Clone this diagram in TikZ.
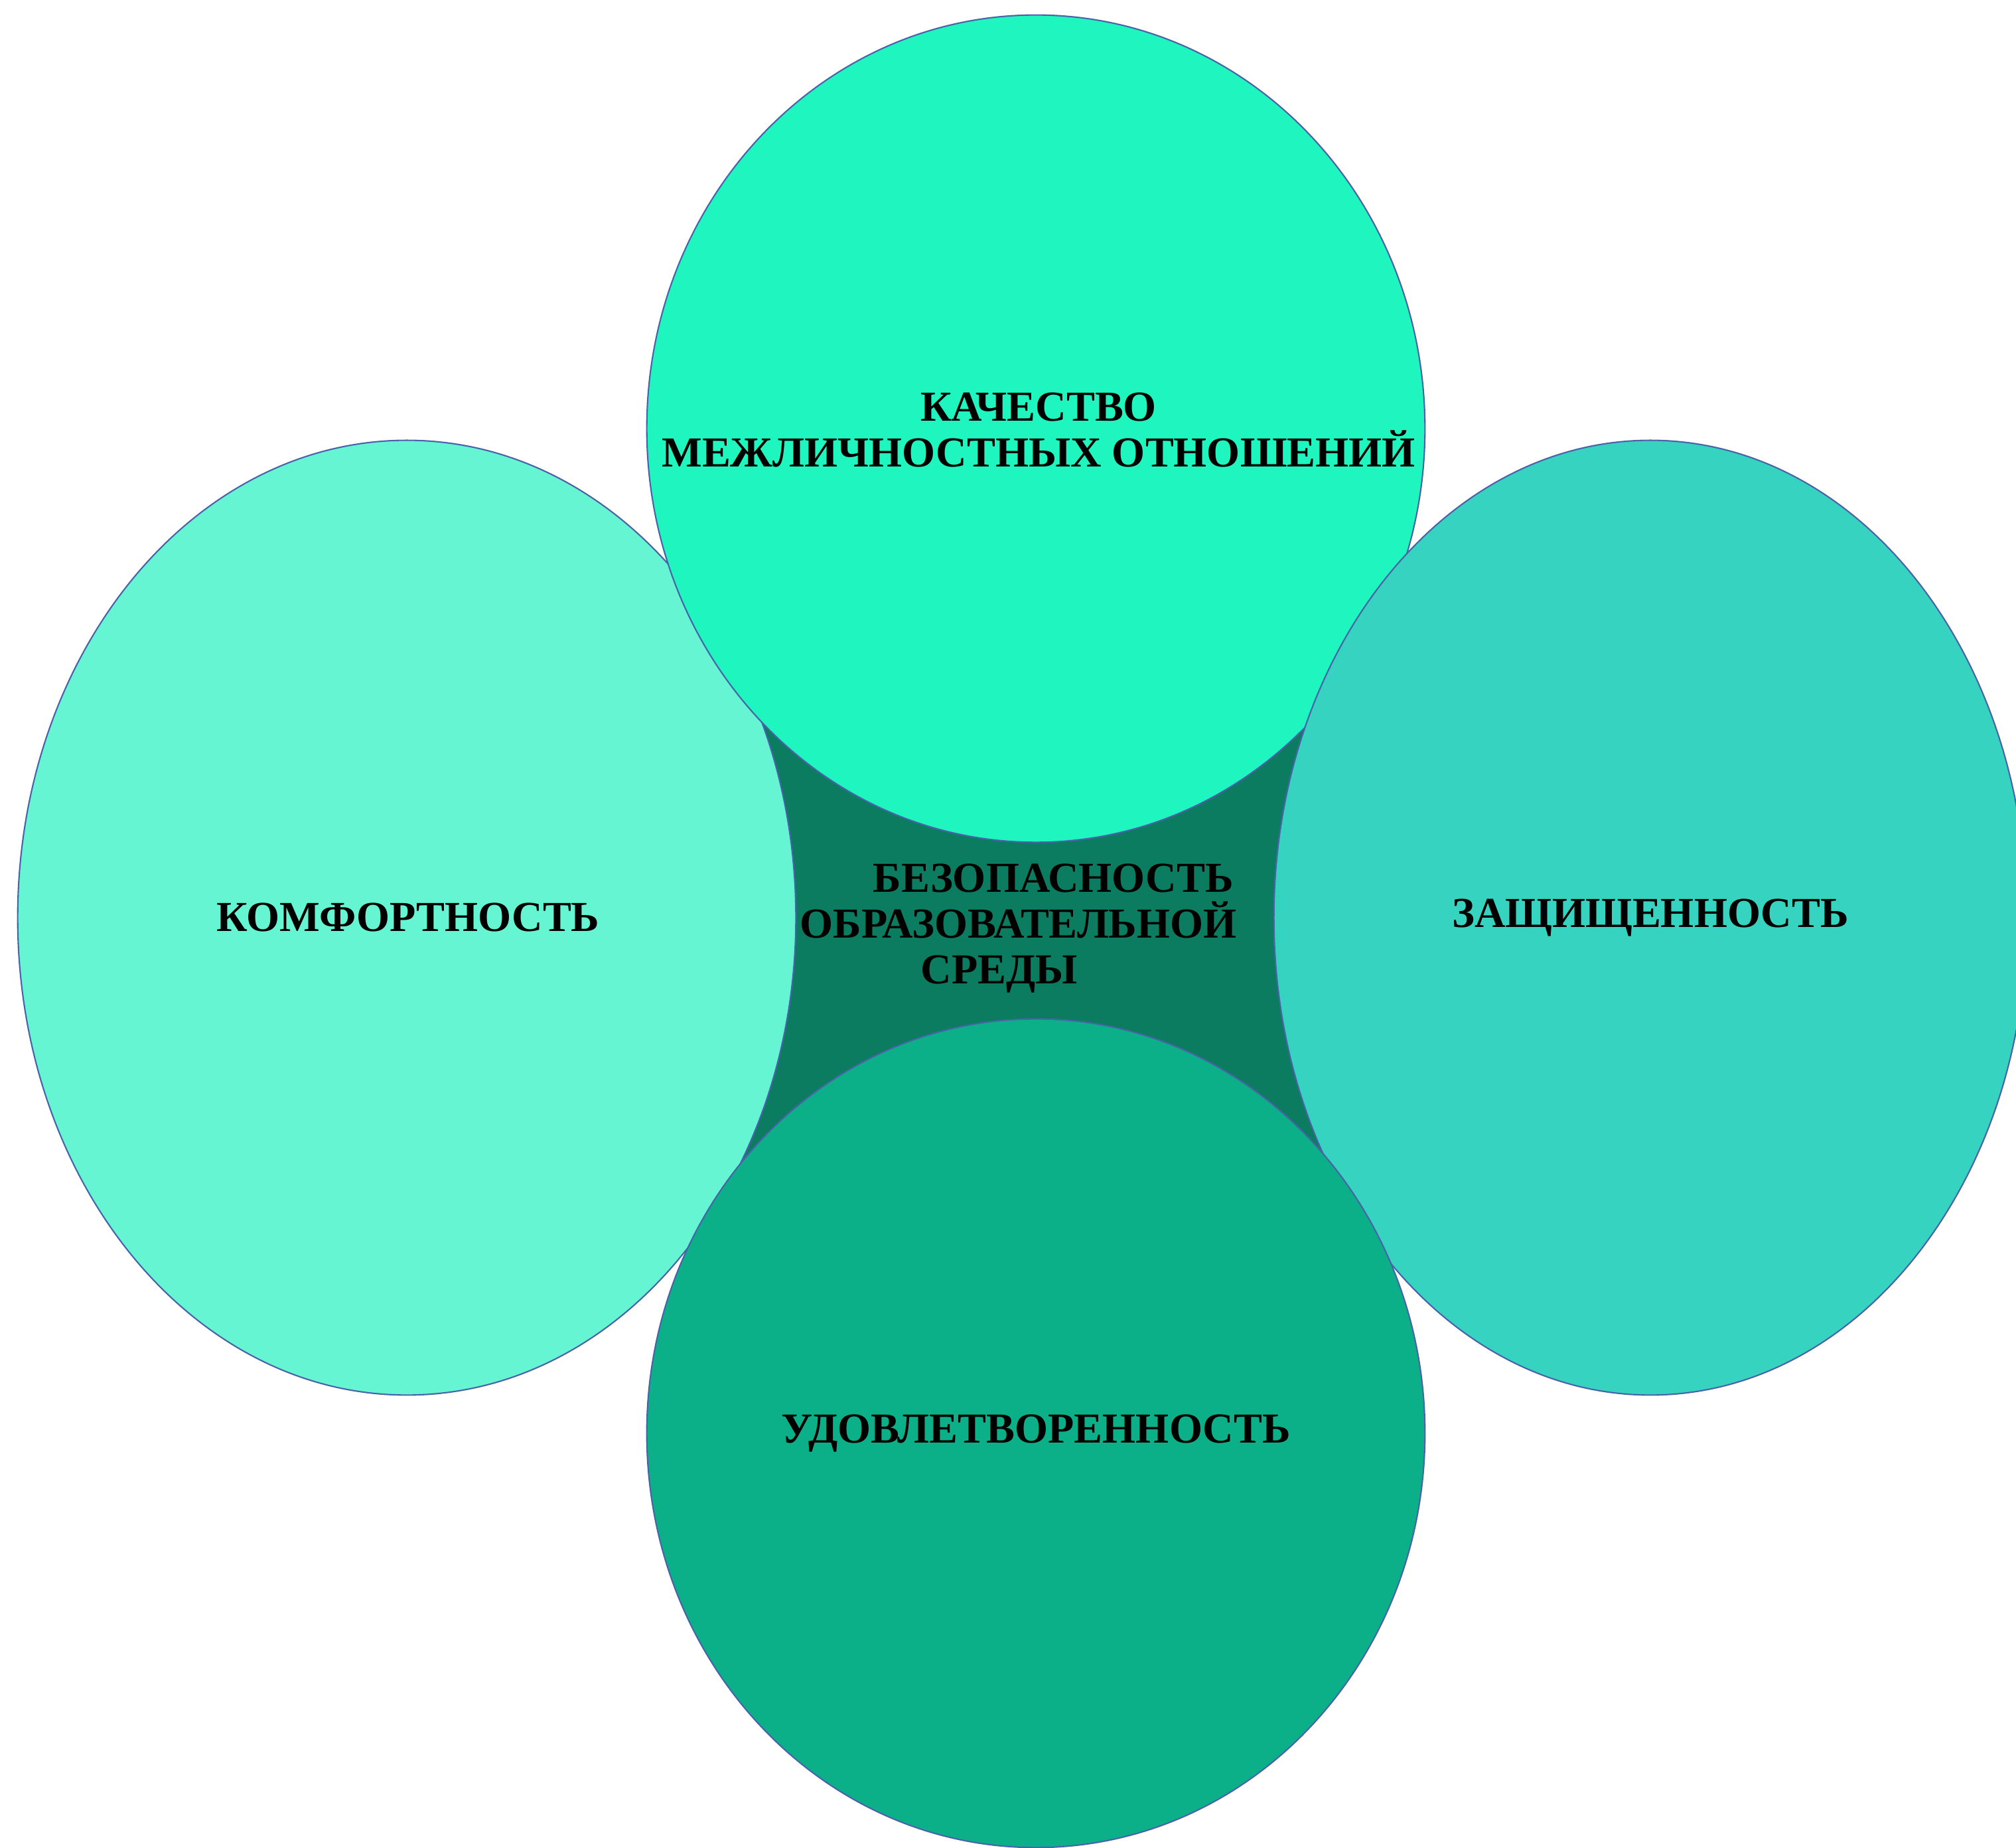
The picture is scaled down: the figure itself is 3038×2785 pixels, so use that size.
\documentclass[tikz,border=0pt]{standalone}
\usepackage{fontspec}
\setmainfont{Liberation Serif}
\definecolor{edgeblue}{RGB}{74,98,168}
\definecolor{coreteal}{RGB}{12,124,96}
\definecolor{leftteal}{RGB}{102,245,210}
\definecolor{topteal}{RGB}{31,245,190}
\definecolor{rightteal}{RGB}{53,211,192}
\definecolor{bottomteal}{RGB}{12,176,136}
\begin{document}
\begin{tikzpicture}[x=0.01cm,y=0.01cm,
  bubble/.style={draw=edgeblue,line width=0.6pt},
  caption/.style={font=\bfseries\fontsize{18.3}{19.6}\selectfont,align=center,inner sep=0pt}]
  \useasboundingbox (0,0) rectangle (3038,2785);

  % Core
  \fill[coreteal] (1147,1698) -- (1967,1690) -- (1995,1045) -- (1112,1027) -- cycle;

  % Bubbles
  \filldraw[bubble,fill=leftteal] (613,1402) ellipse [x radius=5.86cm,y radius=7.19cm];
  \filldraw[bubble,fill=topteal] (1561,2139) ellipse [x radius=5.86cm,y radius=6.23cm];
  \filldraw[bubble,fill=rightteal] (2487,1402) ellipse [x radius=5.67cm,y radius=7.19cm];
  \filldraw[bubble,fill=bottomteal] (1561,625) ellipse [x radius=5.86cm,y radius=6.24cm];

  % Labels
  \node[caption] (comfort) at (615,1402) {КОМФОРТНОСТЬ};
  \node[caption] (relations) at (1565,2137) {КАЧЕСТВО\\ МЕЖЛИЧНОСТНЫХ ОТНОШЕНИЙ};
  \node[caption] (protection) at (2487,1402) {ЗАЩИЩЕННОСТЬ};
  \node[caption] (satisfaction) at (1561,625) {УДОВЛЕТВОРЕННОСТЬ};
  \node[caption,align=left,anchor=west] (safety) at (1205,1386)
    {\hspace*{1.1cm}БЕЗОПАСНОСТЬ\\ОБРАЗОВАТЕЛЬНОЙ\\\hspace*{1.82cm}СРЕДЫ};

\end{tikzpicture}
\end{document}
